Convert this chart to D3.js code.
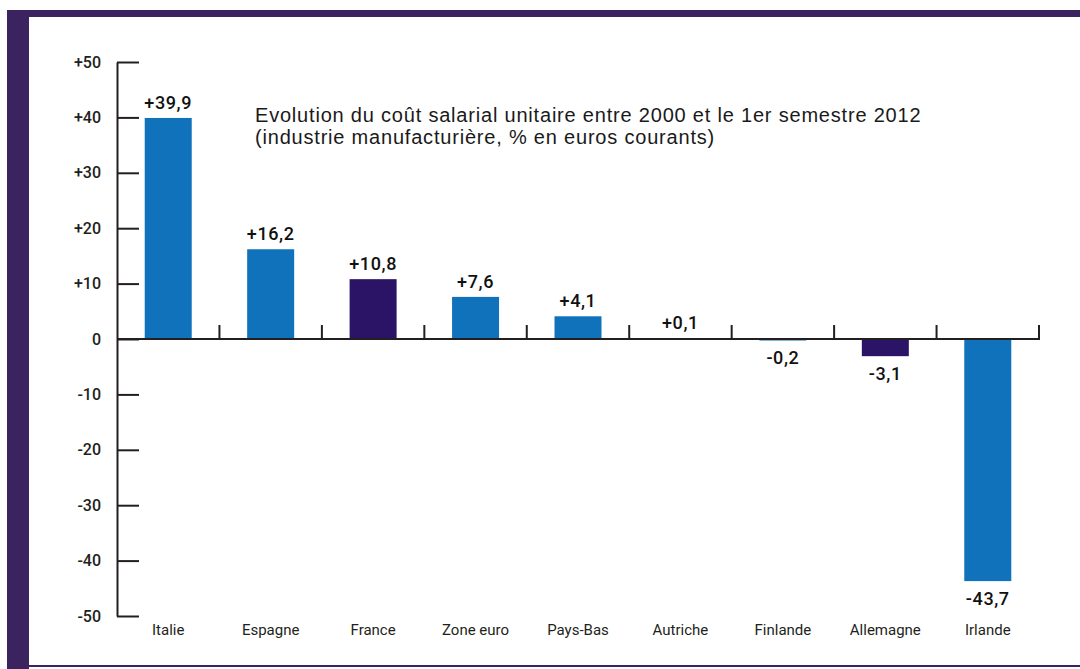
<!DOCTYPE html>
<html lang="fr">
<head>
    <meta charset="UTF-8">
    <title>Evolution du coût salarial unitaire</title>
    <script src="https://d3js.org/d3.v7.min.js"></script>
    <style>
        body {
            margin: 0;
            padding: 0;
            background-color: #fff;
        }
        svg {
            display: block;
        }
    </style>
</head>
<body>
    <div id="chart"></div>
    <script>
        // données
        const pays = ["Italie", "Espagne", "France", "Zone euro", "Pays-Bas", "Autriche", "Finlande", "Allemagne", "Irlande"];
        const valeurs = [39.9, 16.2, 10.8, 7.6, 4.1, 0.1, -0.2, -3.1, -43.7];
        const etiquettes = ["+39,9", "+16,2", "+10,8", "+7,6", "+4,1", "+0,1", "-0,2", "-3,1", "-43,7"];
        const surligne = ["France", "Allemagne"];
        const yTicks = [50, 40, 30, 20, 10, 0, -10, -20, -30, -40, -50];
        const yTickLabels = ["+50", "+40", "+30", "+20", "+10", "0", "-10", "-20", "-30", "-40", "-50"];
        const titre = [
            "Evolution du coût salarial unitaire entre 2000 et le 1er semestre 2012",
            "(industrie manufacturière, % en euros courants)"
        ];

        const width = 1080, height = 669;
        const bleu = "#1072bb", violet = "#2b1466", cadre = "#3a235e", encre = "#231f20";

        const svg = d3.select("#chart").append("svg")
            .attr("width", width)
            .attr("height", height);

        // cadre violet
        svg.append("rect").attr("x", 7).attr("y", 10).attr("width", width - 7).attr("height", 7).attr("fill", cadre);
        svg.append("rect").attr("x", 7).attr("y", 10).attr("width", 22).attr("height", height - 10).attr("fill", cadre);
        svg.append("rect").attr("x", 7).attr("y", 665).attr("width", width - 7).attr("height", 2).attr("fill", cadre);

        const x0 = 117, x1 = 1039;
        const x = d3.scaleBand().domain(pays).range([x0, x1]).paddingInner(0).paddingOuter(0);
        const y = d3.scaleLinear().domain([-50, 50]).range([616, 62]);
        const barW = 47;

        // axe vertical
        const yAxis = svg.append("g")
            .attr("transform", `translate(${x0},0)`)
            .call(d3.axisLeft(y)
                .tickValues(yTicks)
                .tickFormat((d, i) => yTickLabels[i])
                .tickSizeInner(-22)
                .tickSizeOuter(0)
                .tickPadding(16));
        yAxis.select(".domain").attr("stroke", encre).attr("stroke-width", 2);
        yAxis.selectAll(".tick line").attr("stroke", encre).attr("stroke-width", 2);
        yAxis.selectAll(".tick text")
            .attr("fill", encre)
            .style("font-family", "Roboto, 'Liberation Sans', sans-serif")
            .style("font-size", "16px")
            .style("font-weight", "500");

        // barres
        svg.selectAll("rect.bar")
            .data(valeurs)
            .join("rect")
            .attr("class", "bar")
            .attr("x", (d, i) => x(pays[i]) + (x.bandwidth() - barW) / 2)
            .attr("width", barW)
            .attr("y", d => Math.min(y(d), y(0)))
            .attr("height", d => Math.max(Math.abs(y(d) - y(0)), 1.5))
            .attr("fill", (d, i) => surligne.includes(pays[i]) ? violet : bleu);

        // axe horizontal (ligne du zéro + graduations vers le haut)
        svg.append("line")
            .attr("x1", x0).attr("x2", x1 + 1)
            .attr("y1", y(0)).attr("y2", y(0))
            .attr("stroke", encre).attr("stroke-width", 2);
        svg.selectAll("line.sep")
            .data(pays)
            .join("line")
            .attr("class", "sep")
            .attr("x1", d => x(d) + x.bandwidth())
            .attr("x2", d => x(d) + x.bandwidth())
            .attr("y1", y(0))
            .attr("y2", y(0) - 14)
            .attr("stroke", encre).attr("stroke-width", 2);

        // étiquettes de valeurs
        svg.selectAll("text.val")
            .data(valeurs)
            .join("text")
            .attr("class", "val")
            .attr("x", (d, i) => x(pays[i]) + x.bandwidth() / 2)
            .attr("y", d => d >= 0 ? y(d) - 9 : y(d) + 24)
            .attr("text-anchor", "middle")
            .attr("fill", "#111")
            .style("font-family", "Roboto, 'Liberation Sans', sans-serif")
            .style("font-size", "18px")
            .style("font-weight", "500")
            .style("letter-spacing", "0.6px")
            .text((d, i) => etiquettes[i]);

        // noms des pays
        svg.selectAll("text.cat")
            .data(pays)
            .join("text")
            .attr("class", "cat")
            .attr("x", d => x(d) + x.bandwidth() / 2)
            .attr("y", 635)
            .attr("text-anchor", "middle")
            .attr("fill", encre)
            .style("font-family", "Roboto, 'Liberation Sans', sans-serif")
            .style("font-size", "15px")
            .text(d => d);

        // titre
        svg.selectAll("text.titre")
            .data(titre)
            .join("text")
            .attr("class", "titre")
            .attr("x", 255)
            .attr("y", (d, i) => 122 + i * 22)
            .attr("fill", "#1a1a1a")
            .style("font-family", "'Liberation Sans', Arial, sans-serif")
            .style("font-size", "20px")
            .style("letter-spacing", "0.8px")
            .text(d => d);
    </script>
</body>
</html>
